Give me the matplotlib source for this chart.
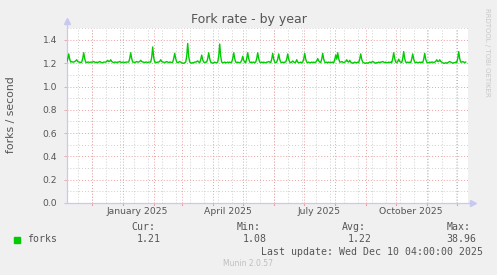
import numpy as np
import matplotlib
matplotlib.use('Agg')
import matplotlib.pyplot as plt

# daily fork rate (forks/s), starting 2024-11-06
forks = [
    1.21, 1.235, 1.28, 1.235, 1.21, 1.215, 1.21, 1.21, 1.215, 1.22, 1.23, 1.215, 1.21, 1.21, 1.205, 1.21, 1.24, 1.29, 1.24, 1.21,
    1.205, 1.21, 1.21, 1.205, 1.21, 1.21, 1.21, 1.215, 1.21, 1.205, 1.21, 1.205, 1.21, 1.215, 1.21, 1.205, 1.205, 1.21, 1.21, 1.21,
    1.215, 1.225, 1.215, 1.215, 1.23, 1.215, 1.21, 1.205, 1.21, 1.21, 1.205, 1.21, 1.21, 1.215, 1.21, 1.205, 1.21, 1.21, 1.205, 1.21,
    1.21, 1.21, 1.21, 1.24, 1.29, 1.24, 1.21, 1.21, 1.205, 1.21, 1.215, 1.21, 1.21, 1.215, 1.225, 1.215, 1.21, 1.21, 1.205, 1.21,
    1.21, 1.205, 1.21, 1.21, 1.21, 1.25, 1.34, 1.25, 1.21, 1.21, 1.205, 1.21, 1.21, 1.215, 1.23, 1.215, 1.21, 1.21, 1.205, 1.21,
    1.215, 1.21, 1.205, 1.21, 1.21, 1.205, 1.21, 1.24, 1.285, 1.24, 1.21, 1.205, 1.21, 1.215, 1.21, 1.205, 1.20, 1.20, 1.205, 1.21,
    1.26, 1.37, 1.26, 1.21, 1.205, 1.20, 1.205, 1.205, 1.21, 1.21, 1.215, 1.22, 1.21, 1.205, 1.23, 1.27, 1.23, 1.21, 1.205, 1.21,
    1.21, 1.24, 1.29, 1.24, 1.21, 1.205, 1.20, 1.205, 1.21, 1.205, 1.205, 1.21, 1.26, 1.365, 1.26, 1.21, 1.205, 1.205, 1.21, 1.205,
    1.205, 1.21, 1.205, 1.21, 1.205, 1.21, 1.24, 1.29, 1.24, 1.21, 1.205, 1.21, 1.205, 1.205, 1.21, 1.225, 1.26, 1.225, 1.21, 1.205,
    1.24, 1.29, 1.24, 1.21, 1.205, 1.21, 1.205, 1.21, 1.205, 1.21, 1.24, 1.29, 1.24, 1.21, 1.205, 1.21, 1.205, 1.21, 1.205, 1.205,
    1.21, 1.21, 1.215, 1.21, 1.205, 1.235, 1.285, 1.235, 1.21, 1.205, 1.21, 1.235, 1.28, 1.235, 1.21, 1.205, 1.21, 1.205, 1.21, 1.21,
    1.235, 1.28, 1.235, 1.21, 1.205, 1.21, 1.22, 1.21, 1.205, 1.21, 1.23, 1.21, 1.205, 1.205, 1.21, 1.205, 1.21, 1.235, 1.285, 1.235,
    1.21, 1.205, 1.21, 1.205, 1.205, 1.21, 1.205, 1.21, 1.205, 1.21, 1.22, 1.24, 1.22, 1.21, 1.205, 1.235, 1.285, 1.235, 1.21, 1.205,
    1.21, 1.205, 1.21, 1.205, 1.21, 1.205, 1.21, 1.205, 1.23, 1.27, 1.235, 1.29, 1.24, 1.21, 1.21, 1.215, 1.21, 1.205, 1.21, 1.215,
    1.23, 1.215, 1.21, 1.225, 1.21, 1.205, 1.20, 1.205, 1.21, 1.205, 1.205, 1.21, 1.205, 1.235, 1.28, 1.235, 1.21, 1.205, 1.20, 1.20,
    1.205, 1.20, 1.205, 1.21, 1.205, 1.21, 1.215, 1.21, 1.205, 1.20, 1.205, 1.205, 1.21, 1.205, 1.21, 1.21, 1.215, 1.21, 1.205, 1.21,
    1.205, 1.205, 1.21, 1.205, 1.21, 1.205, 1.24, 1.29, 1.24, 1.21, 1.205, 1.215, 1.235, 1.215, 1.21, 1.205, 1.24, 1.30, 1.24, 1.21,
    1.205, 1.21, 1.205, 1.21, 1.205, 1.235, 1.28, 1.235, 1.21, 1.205, 1.21, 1.205, 1.205, 1.21, 1.205, 1.21, 1.205, 1.235, 1.285, 1.235,
    1.21, 1.205, 1.205, 1.21, 1.205, 1.21, 1.21, 1.205, 1.21, 1.215, 1.23, 1.215, 1.215, 1.23, 1.215, 1.21, 1.205, 1.20, 1.20, 1.205,
    1.20, 1.205, 1.21, 1.215, 1.21, 1.205, 1.20, 1.205, 1.205, 1.21, 1.205, 1.24, 1.30, 1.24, 1.21, 1.21, 1.215, 1.21, 1.205, 1.21,
]
start_day = '2024-11-06'
end_time = '2025-12-12T07:00'

month_labels = ['January 2025', 'April 2025', 'July 2025', 'October 2025']
month_label_days = ['2025-01-16', '2025-04-16', '2025-07-16', '2025-10-16']

stat_names = ['Cur:', 'Min:', 'Avg:', 'Max:']
stat_values = ['1.21', '1.08', '1.22', '38.96']
last_update = 'Last update: Wed Dec 10 04:00:00 2025'

W, H = 497, 275
bg = '#F0F0F0'
txt = '#555555'
green = '#00CC00'
major_c = '#EBA0A0'
minor_c = '#CFCFCF'
axis_c = '#C8C8F0'

def px(x, y):
    return x / W, 1 - y / H

fig = plt.figure(figsize=(W / 100, H / 100), dpi=100, facecolor=bg)
ax = fig.add_axes([66.7 / W, 1 - 203 / H, (468 - 66.7) / W, (203 - 28.3) / H])
ax.set_facecolor('white')

dates = np.datetime64(start_day) + np.arange(len(forks)) * np.timedelta64(1, 'D')
x0 = np.datetime64(start_day)
x1 = np.datetime64(end_time)

# grid
dots = (0, (1, 2))
for v in np.arange(0.1, 1.55, 0.2):
    ax.axhline(v, color=minor_c, lw=0.7, ls=dots, zorder=1)
for v in np.arange(0.2, 1.45, 0.2):
    ax.axhline(v, color=major_c, lw=0.7, ls=dots, zorder=1)
minor_days = np.arange(np.datetime64('2024-11-17'), x1, np.timedelta64(14, 'D'))
for d in minor_days:
    ax.axvline(d, color=minor_c, lw=0.7, ls=dots, zorder=1)
month_starts = np.arange(np.datetime64('2024-12', 'M'), np.datetime64('2026-01', 'M')).astype('datetime64[D]')
for d in month_starts:
    ax.axvline(d, color=major_c, lw=0.7, ls=dots, zorder=1)
    ax.plot([d, d], [0, -0.012], color=major_c, lw=0.8, clip_on=False,
            transform=ax.get_xaxis_transform())

ax.plot(dates, forks, color=green, lw=1.0, zorder=3)

ax.set_xlim(x0, x1)
ax.set_ylim(0, 1.5)
for s in ax.spines.values():
    s.set_visible(False)
ax.set_xticks([])
ax.set_yticks(np.arange(0, 1.45, 0.2))
ax.set_yticklabels(['%.1f' % v for v in np.arange(0, 1.45, 0.2)])
ax.tick_params(axis='y', length=2, width=0.6, color=major_c, pad=5,
               labelsize=6.6, labelcolor=txt)

# axes with arrows
ax.plot([0, 0], [0, 1.04], color=axis_c, lw=0.9, transform=ax.transAxes, clip_on=False)
ax.plot([-0.005, 1.01], [0, 0], color=axis_c, lw=0.9, transform=ax.transAxes, clip_on=False)
ax.plot([0], [1.04], marker='^', ms=4, color=axis_c, transform=ax.transAxes, clip_on=False)
ax.plot([1.012], [0], marker='>', ms=4, color=axis_c, transform=ax.transAxes, clip_on=False)

for lab, d in zip(month_labels, month_label_days):
    ax.text(np.datetime64(d), -0.05, lab, transform=ax.get_xaxis_transform(),
            ha='center', va='center', fontsize=6.7, color=txt)

fig.text(*px(248.7, 19.5), 'Fork rate - by year', ha='center', va='center',
         fontsize=9, color=txt)
fig.text(*px(11, 115), 'forks / second', rotation=90, ha='center', va='center',
         fontsize=7.8, color=txt)
fig.text(*px(487, 52), 'RRDTOOL / TOBI OETIKER', rotation=270, ha='center',
         va='center', fontsize=5, color='#C8C8C8')

# legend
mono = 'DejaVu Sans Mono'
fig.patches.append(plt.Rectangle(px(14, 243), 6 / W, 6 / H, color=green,
                                 transform=fig.transFigure, figure=fig))
fig.text(*px(26.7, 239.5), 'forks', ha='left', va='center', family=mono,
         fontsize=7.1, color=txt)
head_x = [131, 236.7, 342.3, 446.7]
val_x = [161, 266.7, 371.7, 476.7]
for name, val, hx, vx in zip(stat_names, stat_values, head_x, val_x):
    fig.text(*px(hx, 227.3), name, ha='left', va='center', family=mono,
             fontsize=7.1, color=txt)
    fig.text(*px(vx, 239.5), val, ha='right', va='center', family=mono,
             fontsize=7.1, color=txt)
fig.text(*px(482.7, 251.7), last_update, ha='right', va='center', family=mono,
         fontsize=7.1, color=txt)
fig.text(*px(248, 264), 'Munin 2.0.57', ha='center', va='center',
         fontsize=5.5, color='#BFBFBF')

fig.savefig('out.png', dpi=100, facecolor=bg)
